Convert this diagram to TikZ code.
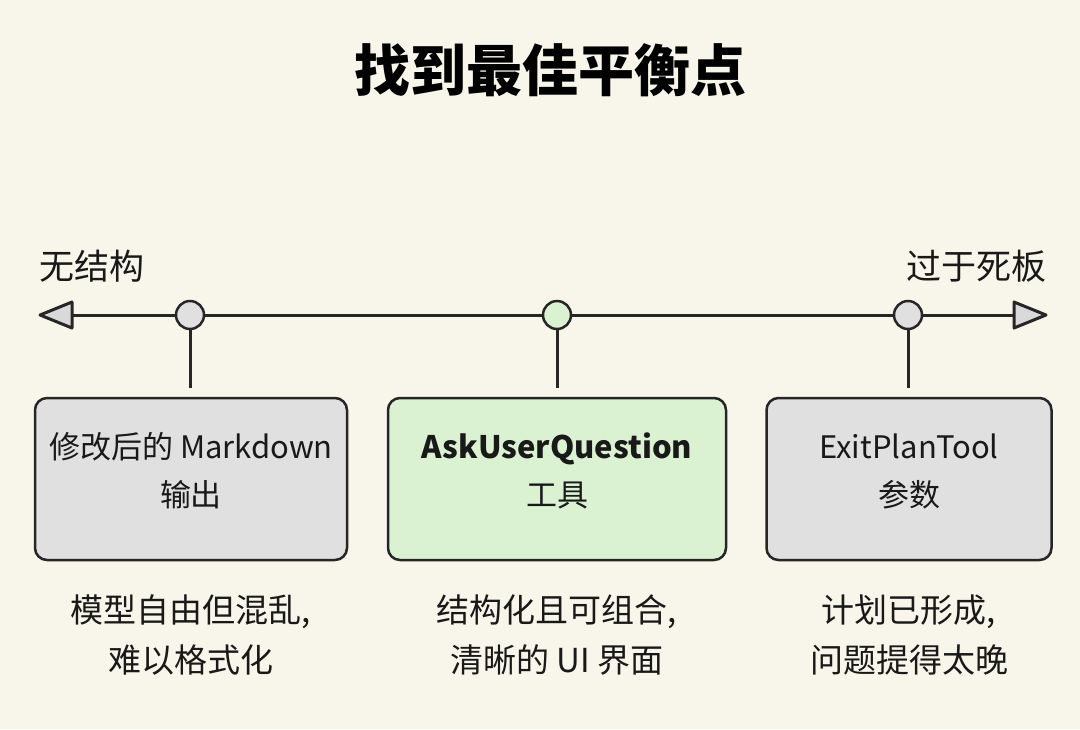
\documentclass[tikz,border=0pt]{standalone}
\usepackage{fontspec}
\setmainfont{Noto Sans CJK SC}
\begin{document}
\begin{tikzpicture}[x=1pt,y=-1pt,
  box/.style={draw=black!85,line width=2.5pt,rounded corners=12pt},
  dot/.style={circle,draw=black!85,line width=2.5pt,minimum size=28pt,inner sep=0pt},
  lbl/.style={font=\fontsize{31}{48}\selectfont,align=center,text=black!90},
  sub/.style={font=\fontsize{33}{50}\selectfont,align=center,text=black!90},
  ln/.style={line width=3pt,draw=black!85}]
\fill[color={rgb,255:red,248;green,245;blue,234}] (0,0) rectangle (1080,729);
\useasboundingbox (0,0) rectangle (1080,729);
\node[font=\fontsize{56}{60}\selectfont\bfseries] (title) at (550,70) {找到最佳平衡点};
\coordinate (L) at (40,315);
\coordinate (R) at (1046,315);
\draw[ln] (62,315) -- (1024,315);
\draw[ln,fill=black!15,line join=round] (L) -- (72,302) -- (72,328) -- cycle;
\draw[ln,fill=black!15,line join=round] (R) -- (1014,302) -- (1014,328) -- cycle;
\node[sub,font=\fontsize{35}{40}\selectfont,anchor=west] (nl) at (36,266) {无结构};
\node[sub,font=\fontsize{35}{40}\selectfont,anchor=east] (nr) at (1050,266) {过于死板};
\node[box,fill=black!12,minimum width=312pt,minimum height=162pt] (b1) at (191,479) {};
\node[box,fill={rgb,255:red,218;green,242;blue,210},minimum width=338pt,minimum height=162pt] (b2) at (557,479) {};
\node[box,fill=black!12,minimum width=285pt,minimum height=162pt] (b3) at (909,479) {};
\node[lbl] at ([yshift=8pt]b1.center) {修改后的 Markdown\\输出};
\node[lbl] at ([yshift=8pt]b2.center) {\textbf{AskUserQuestion}\\工具};
\node[lbl] at ([yshift=8pt]b3.center) {ExitPlanTool\\参数};
\node[dot,fill=black!12] (c1) at (190,315) {};
\node[dot,fill={rgb,255:red,218;green,242;blue,210}] (c2) at (557,315) {};
\node[dot,fill=black!12] (c3) at (908,315) {};
\draw[ln] (c1) -- (190,388);
\draw[ln] (c2) -- (557,388);
\draw[ln] (c3) -- (908,388);
\node[sub] at (191,635) {模型自由但混乱,\\难以格式化};
\node[sub] at (557,635) {结构化且可组合,\\清晰的 UI 界面};
\node[sub] at (909,635) {计划已形成,\\问题提得太晚};
\end{tikzpicture}
\end{document}
